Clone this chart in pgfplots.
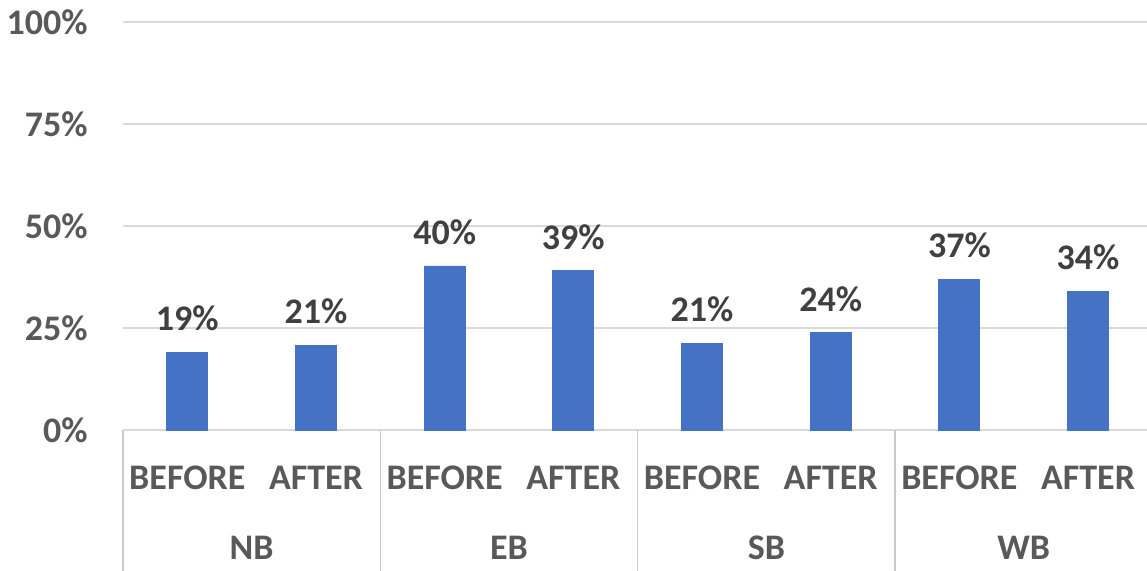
\documentclass[border=0pt]{standalone}
\usepackage{pgfplots}
\pgfplotsset{compat=1.18}
\usepackage{fontspec}
\setmainfont{Carlito}
\definecolor{barblue}{HTML}{4472C4}
\definecolor{tickgray}{HTML}{595959}
\definecolor{labgray}{HTML}{404040}
\definecolor{gridgray}{HTML}{D9D9D9}
\begin{document}
\begin{tikzpicture}
\useasboundingbox (-61.5pt,-70.5pt) rectangle (512pt,215pt);
\clip (-61.5pt,-70.5pt) rectangle (512pt,215pt);
\begin{axis}[
  at={(0pt,0pt)}, anchor=south west,
  scale only axis, width=512pt, height=204pt,
  xmin=-0.5, xmax=7.458, ymin=0, ymax=100,
  axis line style={draw=none},
  ytick={0,25,50,75,100}, yticklabels={0\%,25\%,50\%,75\%,100\%},
  ymajorgrids, grid style={gridgray, line width=1pt},
  major tick length=0pt,
  xtick={0,...,7},
  xticklabels={BEFORE,AFTER,BEFORE,AFTER,BEFORE,AFTER,BEFORE,AFTER},
  every x tick label/.append style={font=\fontsize{18pt}{18pt}\selectfont\bfseries, text=tickgray, anchor=center, inner sep=0pt, yshift=-24pt},
  every y tick label/.append style={font=\fontsize{18pt}{18pt}\selectfont\bfseries, text=tickgray, anchor=east, inner sep=0pt, xshift=-17.5pt},
  clip=false,
  ybar, bar width=20.5pt,
  nodes near coords={\pgfplotspointmeta\%},
  point meta=explicit symbolic,
  every node near coord/.append style={font=\fontsize{18pt}{18pt}\selectfont\bfseries, text=labgray, anchor=south, inner sep=0pt, yshift=10.5pt},
]
\addplot[fill=barblue, draw=barblue] coordinates {
  (0,19.1) [19]
  (1,20.8) [21]
  (2,40.2) [40]
  (3,39.0) [39]
  (4,21.3) [21]
  (5,23.8) [24]
  (6,37.0) [37]
  (7,34.0) [34]
};
\draw[gridgray!85!gray, line width=0.75pt] (axis cs:-0.5,0) -- ++(0pt,-80pt);
\draw[gridgray!85!gray, line width=0.75pt] (axis cs:1.5,0) -- ++(0pt,-80pt);
\draw[gridgray!85!gray, line width=0.75pt] (axis cs:3.5,0) -- ++(0pt,-80pt);
\draw[gridgray!85!gray, line width=0.75pt] (axis cs:5.5,0) -- ++(0pt,-80pt);
\node[font=\fontsize{18pt}{18pt}\selectfont\bfseries, text=tickgray, anchor=center, inner sep=0pt] at ([yshift=-59pt]axis cs:0.5,0) {NB};
\node[font=\fontsize{18pt}{18pt}\selectfont\bfseries, text=tickgray, anchor=center, inner sep=0pt] at ([yshift=-59pt]axis cs:2.5,0) {EB};
\node[font=\fontsize{18pt}{18pt}\selectfont\bfseries, text=tickgray, anchor=center, inner sep=0pt] at ([yshift=-59pt]axis cs:4.5,0) {SB};
\node[font=\fontsize{18pt}{18pt}\selectfont\bfseries, text=tickgray, anchor=center, inner sep=0pt] at ([yshift=-59pt]axis cs:6.5,0) {WB};
\end{axis}
\end{tikzpicture}
\end{document}
